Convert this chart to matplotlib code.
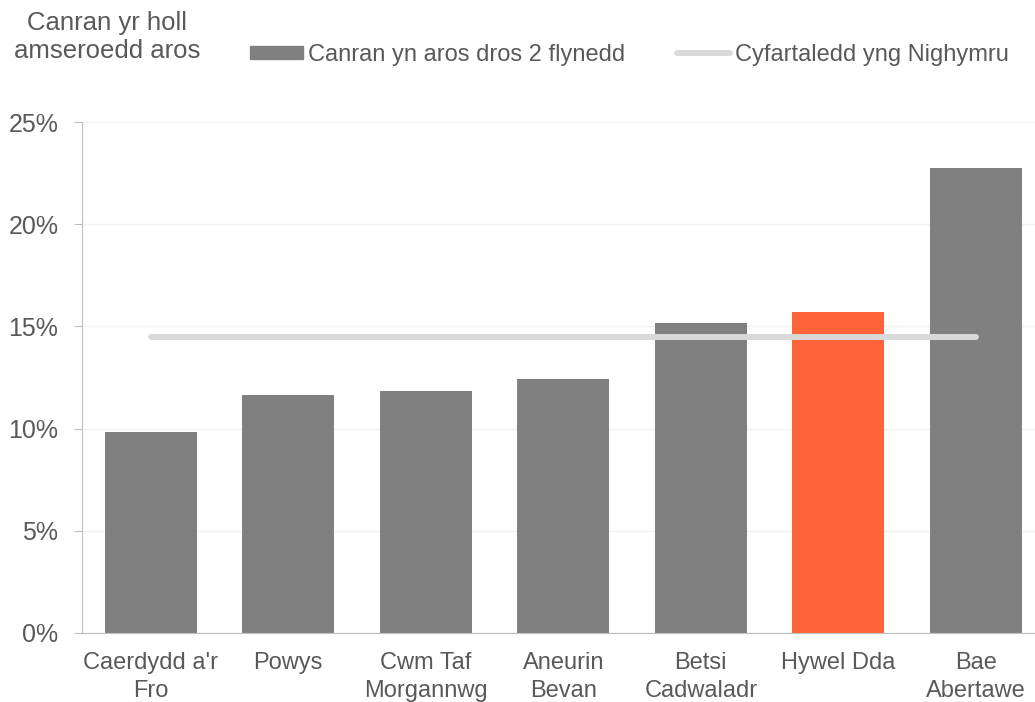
import matplotlib
matplotlib.use("Agg")
from matplotlib import pyplot as plt
from matplotlib.patches import Rectangle
from matplotlib.lines import Line2D

CATEGORIES = [
    "Caerdydd a'r\nFro",
    "Powys",
    "Cwm Taf\nMorgannwg",
    "Aneurin\nBevan",
    "Betsi\nCadwaladr",
    "Hywel Dda",
    "Bae\nAbertawe",
]
OVER_2_YEARS = [9.85, 11.65, 11.85, 12.45, 15.15, 15.7, 22.75]
WALES_AVERAGE = [14.5] * 7
HIGHLIGHT = "Hywel Dda"

TEXT = "#595959"
GREY_BAR = "#808080"
ORANGE = "#ff6339"
AVG_LINE = "#d9d9d9"

plt.rcParams["font.family"] = ["Liberation Sans", "DejaVu Sans"]

fig = plt.figure(figsize=(10.35, 7.02), dpi=100)
ax = fig.add_axes([82 / 1035, 1 - 633 / 702, 1 - 82 / 1035, (633 - 122) / 702])

x = list(range(len(CATEGORIES)))
colors = [ORANGE if c == HIGHLIGHT else GREY_BAR for c in CATEGORIES]
ax.bar(x, OVER_2_YEARS, width=0.67, color=colors, zorder=2)
ax.plot(x, WALES_AVERAGE, color=AVG_LINE, linewidth=4.3, solid_capstyle="round", zorder=3)

ax.set_xlim(-0.5, 6.43)
ax.set_ylim(0, 25)
ax.set_yticks([0, 5, 10, 15, 20, 25])
ax.set_yticklabels([f"{v}%" for v in [0, 5, 10, 15, 20, 25]])
ax.set_xticks(x)
ax.set_xticklabels(CATEGORIES, linespacing=1.3)

ax.yaxis.grid(True, color="#f2f2f2", linewidth=1, zorder=0)
ax.set_axisbelow(True)
for side in ("top", "right"):
    ax.spines[side].set_visible(False)
ax.spines["left"].set_color("#bfbfbf")
ax.spines["bottom"].set_color("#bfbfbf")
ax.tick_params(axis="y", length=6, color="#bfbfbf", labelsize=18, labelcolor=TEXT, pad=11)
ax.tick_params(axis="x", length=0, labelsize=17, labelcolor=TEXT, pad=14)

# legend drawn as title + entries across the top
fig.text(107 / 1035, 1 - 37 / 702, "Canran yr holl\namseroedd aros", fontsize=18.5,
         color=TEXT, va="center", ha="center", linespacing=1.2)
handles = [
    Rectangle((0, 0), 1, 1, color=GREY_BAR),
    Line2D([0], [0], color=AVG_LINE, linewidth=4.3, solid_capstyle="round"),
]
fig.legend(handles, ["Canran yn aros dros 2 flynedd", "Cyfartaledd yng Nighymru"],
           loc="center left", bbox_to_anchor=(250 / 1035, 1 - 55 / 702), ncol=2,
           frameon=False, fontsize=17, labelcolor=TEXT, handlelength=2.25,
           handleheight=0.5, handletextpad=0.2, columnspacing=2.2,
           borderaxespad=0, borderpad=0)

fig.savefig("out.png", dpi=100)
